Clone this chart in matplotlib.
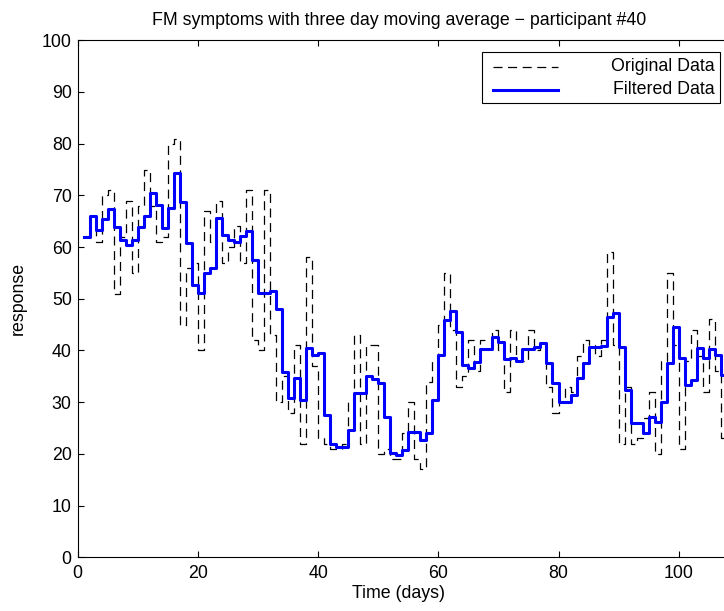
import numpy as np
import matplotlib
matplotlib.use("Agg")
import matplotlib.pyplot as plt
from matplotlib.lines import Line2D
from matplotlib.patches import Rectangle

plt.rcParams['font.family'] = ['Liberation Sans', 'DejaVu Sans']
plt.rcParams['lines.scale_dashes'] = False

# Daily symptom responses (days 1..108)
days = list(range(1, 109))

original = [62, 66, 61, 70, 71, 51, 62, 69, 55, 68,
            75, 68, 61, 62, 80, 81, 45, 56, 57, 40,
            67, 61, 69, 57, 60, 64, 57, 71, 42, 40,
            71, 43, 30, 35, 28, 41, 22, 58, 37, 23,
            22, 21, 21, 22, 30, 43, 22, 41, 41, 20,
            21, 19, 19, 24, 30, 19, 17, 34, 38, 45,
            55, 44, 33, 35, 42, 36, 42, 42, 44, 40,
            32, 44, 38, 38, 44, 40, 41, 33, 28, 30,
            33, 32, 39, 42, 41, 39, 42, 59, 41, 22,
            33, 22, 23, 27, 32, 20, 38, 55, 41, 21,
            38, 44, 39, 32, 46, 36, 23, 23]

filtered = [62.0, 66.0, 63.3, 65.4, 67.4, 63.9, 61.4, 60.4, 61.4, 63.9,
            66.0, 70.4, 68.1, 63.6, 67.5, 74.3, 68.8, 60.7, 52.7, 51.1,
            54.9, 55.9, 65.6, 62.3, 61.4, 61.0, 62.1, 63.2, 57.5, 51.1,
            51.1, 51.5, 48.0, 35.9, 30.8, 34.6, 30.4, 40.4, 39.1, 39.5,
            27.5, 22.0, 21.4, 21.4, 24.6, 31.7, 31.7, 35.1, 34.4, 33.8,
            27.2, 20.1, 19.8, 20.8, 24.3, 24.3, 22.7, 24.0, 30.4, 39.1,
            45.9, 47.7, 43.6, 37.2, 36.6, 37.8, 40.2, 40.2, 42.6, 41.7,
            38.3, 38.5, 38.0, 40.2, 40.2, 40.7, 41.4, 37.5, 33.7, 30.1,
            30.1, 31.4, 34.6, 37.6, 40.6, 40.6, 40.9, 46.5, 47.2, 40.7,
            32.4, 26.0, 26.0, 24.0, 27.1, 26.2, 30.1, 37.5, 44.5, 38.5,
            33.3, 34.3, 40.4, 38.5, 40.2, 39.1, 35.3, 35.3]

series_labels = ['Original Data', 'Filtered Data']
x_ticks = [0, 20, 40, 60, 80, 100]
y_ticks = list(range(0, 101, 10))

FS = 12.8
W, H = 724, 611
fig = plt.figure(figsize=(W / 100, H / 100), dpi=100)


def fx(px):
    return px / W


def fy(py):
    return 1 - py / H


# the plotting box runs past the right edge of the canvas
px_per_day = 6.01
ax_left, ax_top, ax_bottom = 77.7, 40.3, 557.3
x_max = 120
ax_right = ax_left + x_max * px_per_day
ax = fig.add_axes([fx(ax_left), fy(ax_bottom),
                   (ax_right - ax_left) / W, (ax_bottom - ax_top) / H])

dash = (0, (6.5, 4.0))
black_style = dict(color='black', linewidth=0.9, linestyle=dash)
blue_style = dict(color='#0000ff', linewidth=2.2)

ax.plot(days, original, drawstyle='steps-post', label=series_labels[0],
        **black_style)
ax.plot(days, filtered, drawstyle='steps-post', label=series_labels[1],
        **blue_style)

ax.set_xlim(0, x_max)
ax.set_ylim(0, 100)
ax.set_xticks(x_ticks)
ax.set_yticks(y_ticks)
ax.tick_params(axis='x', direction='in', length=4, width=0.8, top=True,
               labelsize=FS, pad=5.5)
ax.tick_params(axis='y', direction='in', length=4, width=0.8, right=True,
               labelsize=FS, pad=4.3)
for s in ax.spines.values():
    s.set_linewidth(0.8)

x_center = 399
fig.text(fx(x_center), fy(25),
         'FM symptoms with three day moving average \u2212 participant #40',
         fontsize=FS, ha='center', va='baseline')
fig.text(fx(x_center), fy(598), 'Time (days)', fontsize=FS,
         ha='center', va='baseline')
fig.text(fx(18), fy(298.8), 'response', fontsize=FS, rotation=90,
         ha='center', va='center')

# legend box in the upper right corner
box_l, box_r, box_t, box_b = 482, 720, 52, 103
fig.add_artist(Rectangle((fx(box_l), fy(box_b)), (box_r - box_l) / W,
                         (box_b - box_t) / H, transform=fig.transFigure,
                         facecolor='white', edgecolor='black', linewidth=0.8,
                         zorder=5))
rows_y = [66.5, 89.5]
for yy, lab, style in zip(rows_y, series_labels, [black_style, blue_style]):
    fig.add_artist(Line2D([fx(493), fx(558)], [fy(yy), fy(yy)],
                          transform=fig.transFigure, zorder=6, **style))
    fig.text(fx(715), fy(yy), lab, fontsize=FS, ha='right', va='center',
             zorder=7)

fig.savefig('out.png', dpi=100)
